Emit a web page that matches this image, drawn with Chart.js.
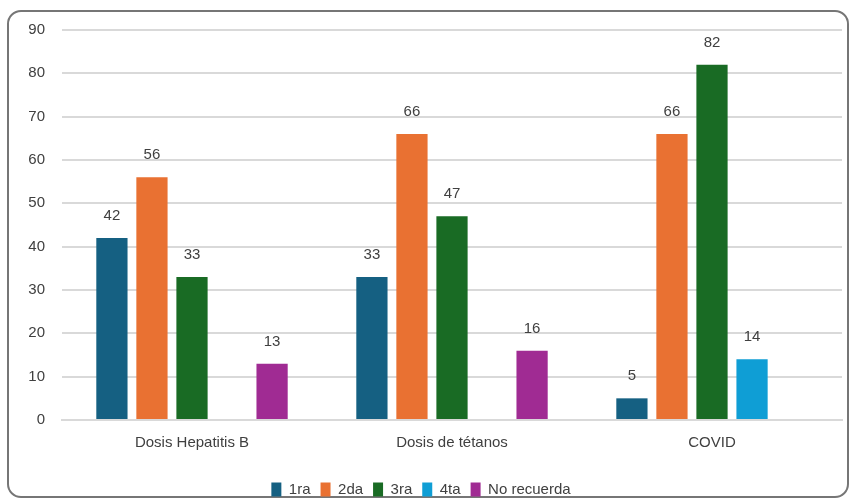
<!DOCTYPE html>
<html>
<head>
<meta charset="utf-8">
<script src="https://cdn.jsdelivr.net/npm/chart.js@4"></script>
<style>
    html, body { margin: 0; padding: 0; background: #fff; }
    #wrap { width: 849px; height: 499px; }
</style>
</head>
<body>
<div id="wrap"><canvas id="vacChart"></canvas></div>
<script>
const categories = ["Dosis Hepatitis B", "Dosis de tétanos", "COVID"];
const seriesNames = ["1ra", "2da", "3ra", "4ta", "No recuerda"];
const dosis1ra = [42, 33, 5];
const dosis2da = [56, 66, 66];
const dosis3ra = [33, 47, 82];
const dosis4ta = [null, null, 14];
const noRecuerda = [13, 16, null];
const yTicks = [0, 10, 20, 30, 40, 50, 60, 70, 80, 90];

const colors = ["#156082", "#E97132", "#196B24", "#0F9ED5", "#A02B93"];
const values = [dosis1ra, dosis2da, dosis3ra, dosis4ta, noRecuerda];
const fontFamily = "'Liberation Sans', Arial, sans-serif";

// frame round the whole chart
const framePlugin = {
    id: "frame",
    beforeDraw(chart) {
        const ctx = chart.ctx;
        ctx.save();
        ctx.fillStyle = "#fff";
        ctx.fillRect(0, 0, chart.width, chart.height);
        ctx.strokeStyle = "#767676";
        ctx.lineWidth = 2;
        ctx.beginPath();
        ctx.roundRect(8, 11, chart.width - 9, chart.height - 13, 13);
        ctx.stroke();
        ctx.restore();
    },
};

// value labels above the bars
const valueLabels = {
    id: "valueLabels",
    afterDatasetsDraw(chart) {
        const ctx = chart.ctx;
        ctx.save();
        ctx.font = "15px " + fontFamily;
        ctx.fillStyle = "#404040";
        ctx.textAlign = "center";
        ctx.textBaseline = "middle";
        chart.data.datasets.forEach((ds, i) => {
            chart.getDatasetMeta(i).data.forEach((bar, j) => {
                const v = ds.data[j];
                if (v === null || v === undefined) return;
                ctx.fillText(String(v), bar.x, bar.y - 22);
            });
        });
        ctx.restore();
    },
};

new Chart(document.getElementById("vacChart").getContext("2d"), {
    type: "bar",
    data: {
        labels: categories,
        datasets: seriesNames.map((name, i) => ({
            label: name,
            data: values[i],
            backgroundColor: colors[i],
            borderWidth: 0,
            categoryPercentage: 0.77,
            barPercentage: 0.78,
            skipNull: false,
        })),
    },
    options: {
        responsive: true,
        maintainAspectRatio: false,
        animation: false,
        devicePixelRatio: 1,
        layout: {
            padding: { top: 30, right: 7, bottom: -8, left: 0 },
        },
        plugins: {
            legend: {
                position: "bottom",
                labels: {
                    boxWidth: 10,
                    boxHeight: 14,
                    padding: 10,
                    color: "#404040",
                    font: { size: 15, family: fontFamily },
                },
            },
            tooltip: { enabled: false },
        },
        scales: {
            x: {
                afterFit(scale) { scale.height = 52; },
                grid: { display: false, drawTicks: false },
                border: { color: "#d9d9d9", width: 2 },
                ticks: {
                    color: "#404040",
                    padding: 14,
                    font: { size: 15, family: fontFamily },
                },
            },
            y: {
                min: 0,
                max: 90,
                afterFit(scale) { scale.width = 62; },
                afterBuildTicks(scale) {
                    scale.ticks = yTicks.map((v) => ({ value: v }));
                },
                grid: { color: "#d9d9d9", lineWidth: 2, drawTicks: false },
                border: { display: false },
                ticks: {
                    color: "#404040",
                    padding: 17,
                    font: { size: 15, family: fontFamily },
                },
            },
        },
    },
    plugins: [framePlugin, valueLabels],
});
</script>
</body>
</html>
